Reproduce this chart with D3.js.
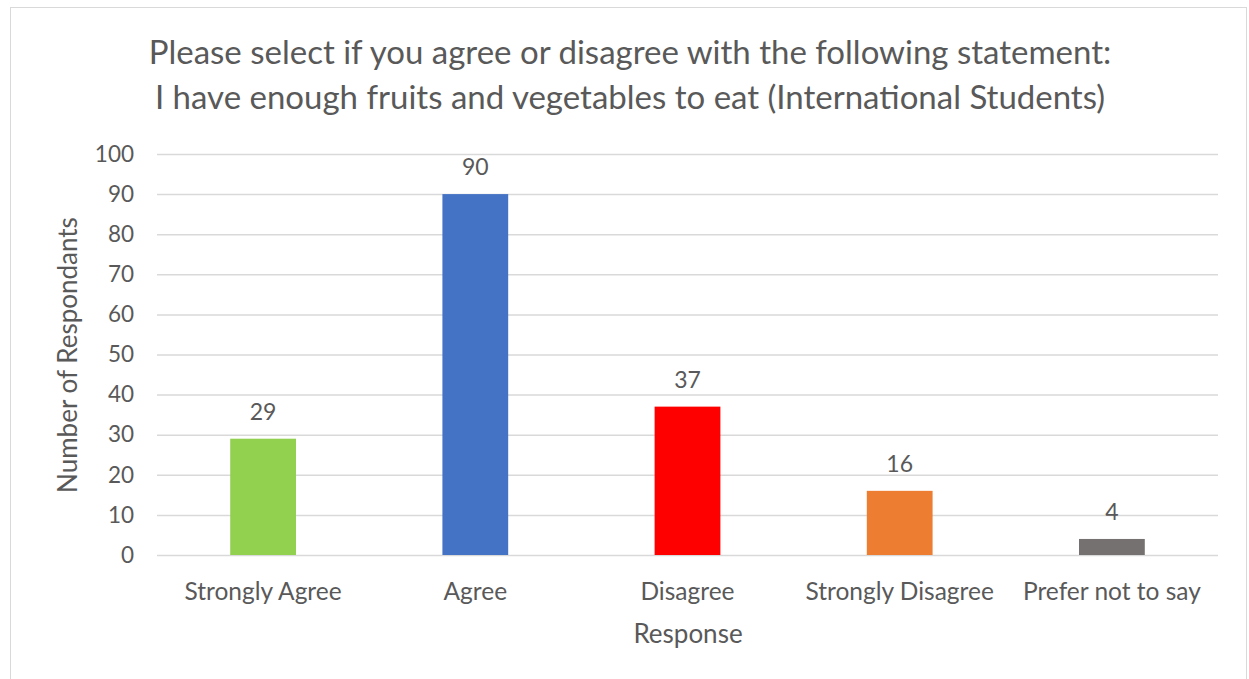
<!DOCTYPE html>
<html>
<head>
<meta charset="utf-8">
<script src="https://cdn.jsdelivr.net/npm/d3@7"></script>
<style>
  html, body { margin: 0; padding: 0; background: #ffffff; }
  svg { display: block; }
  text { font-family: "Lato", "Open Sans", sans-serif; fill: #595959; }
</style>
</head>
<body>
<svg id="chart" width="1249" height="679"></svg>
<script>
// Survey responses
const categories = ["Strongly Agree", "Agree", "Disagree", "Strongly Disagree", "Prefer not to say"];
const counts = [29, 90, 37, 16, 4];
const barColors = ["#92D050", "#4472C4", "#FF0000", "#ED7D31", "#767171"];
const yTicks = [0, 10, 20, 30, 40, 50, 60, 70, 80, 90, 100];
const titleLines = [
  "Please select if you agree or disagree with the following statement:",
  "I have enough fruits and vegetables to eat (International Students)"
];

const plot = { left: 157, right: 1218, top: 154, bottom: 555 };

const svg = d3.select("#chart");

// outer frame
svg.append("rect")
  .attr("x", 10.5).attr("y", 7.5)
  .attr("width", 1236).attr("height", 680)
  .attr("fill", "#fff").attr("stroke", "#d9d9d9").attr("stroke-width", 1);

const x = d3.scaleBand().domain(categories).range([plot.left, plot.right]).paddingInner(0.69).paddingOuter(0.345);
const y = d3.scaleLinear().domain([0, 100]).range([plot.bottom, plot.top]);

// gridlines
svg.append("g").selectAll("line").data(yTicks).join("line")
  .attr("x1", plot.left).attr("x2", plot.right)
  .attr("y1", d => y(d) + 0.5).attr("y2", d => y(d) + 0.5)
  .attr("stroke", "#d9d9d9").attr("stroke-width", 1.5);

// y axis labels
const yAxis = d3.axisLeft(y).tickValues(yTicks).tickSize(0).tickPadding(0);
const gy = svg.append("g").attr("transform", `translate(${134},0)`).call(yAxis);
gy.select(".domain").remove();
gy.selectAll("text").attr("font-size", 22.5).style("font-family", "Lato, sans-serif").attr("fill", "#595959");

// bars
svg.append("g").selectAll("rect").data(categories).join("rect")
  .attr("x", d => x(d))
  .attr("width", x.bandwidth())
  .attr("y", (d, i) => y(counts[i]))
  .attr("height", (d, i) => y(0) - y(counts[i]))
  .attr("fill", (d, i) => barColors[i]);

// value labels
svg.append("g").selectAll("text").data(categories).join("text")
  .attr("x", d => x(d) + x.bandwidth() / 2)
  .attr("y", (d, i) => y(counts[i]) - 19)
  .attr("text-anchor", "middle")
  .attr("font-size", 23)
  .text((d, i) => counts[i]);

// category labels
const xAxis = d3.axisBottom(x).tickSize(0).tickPadding(0);
const gx = svg.append("g").attr("transform", `translate(0,${600})`).call(xAxis);
gx.select(".domain").remove();
gx.selectAll("text").attr("dy", 0).attr("font-size", 24.5).style("font-family", "Lato, sans-serif").attr("fill", "#595959");

// axis titles
svg.append("text")
  .attr("x", 688).attr("y", 643)
  .attr("text-anchor", "middle").attr("font-size", 26)
  .text("Response");

svg.append("text")
  .attr("transform", "translate(77,355) rotate(-90)")
  .attr("text-anchor", "middle").attr("font-size", 26)
  .text("Number of Respondants");

// title
svg.append("g").selectAll("text").data(titleLines).join("text")
  .attr("x", 630)
  .attr("y", (d, i) => 64 + i * 45)
  .attr("text-anchor", "middle")
  .attr("font-size", 33)
  .text(d => d);
</script>
</body>
</html>
